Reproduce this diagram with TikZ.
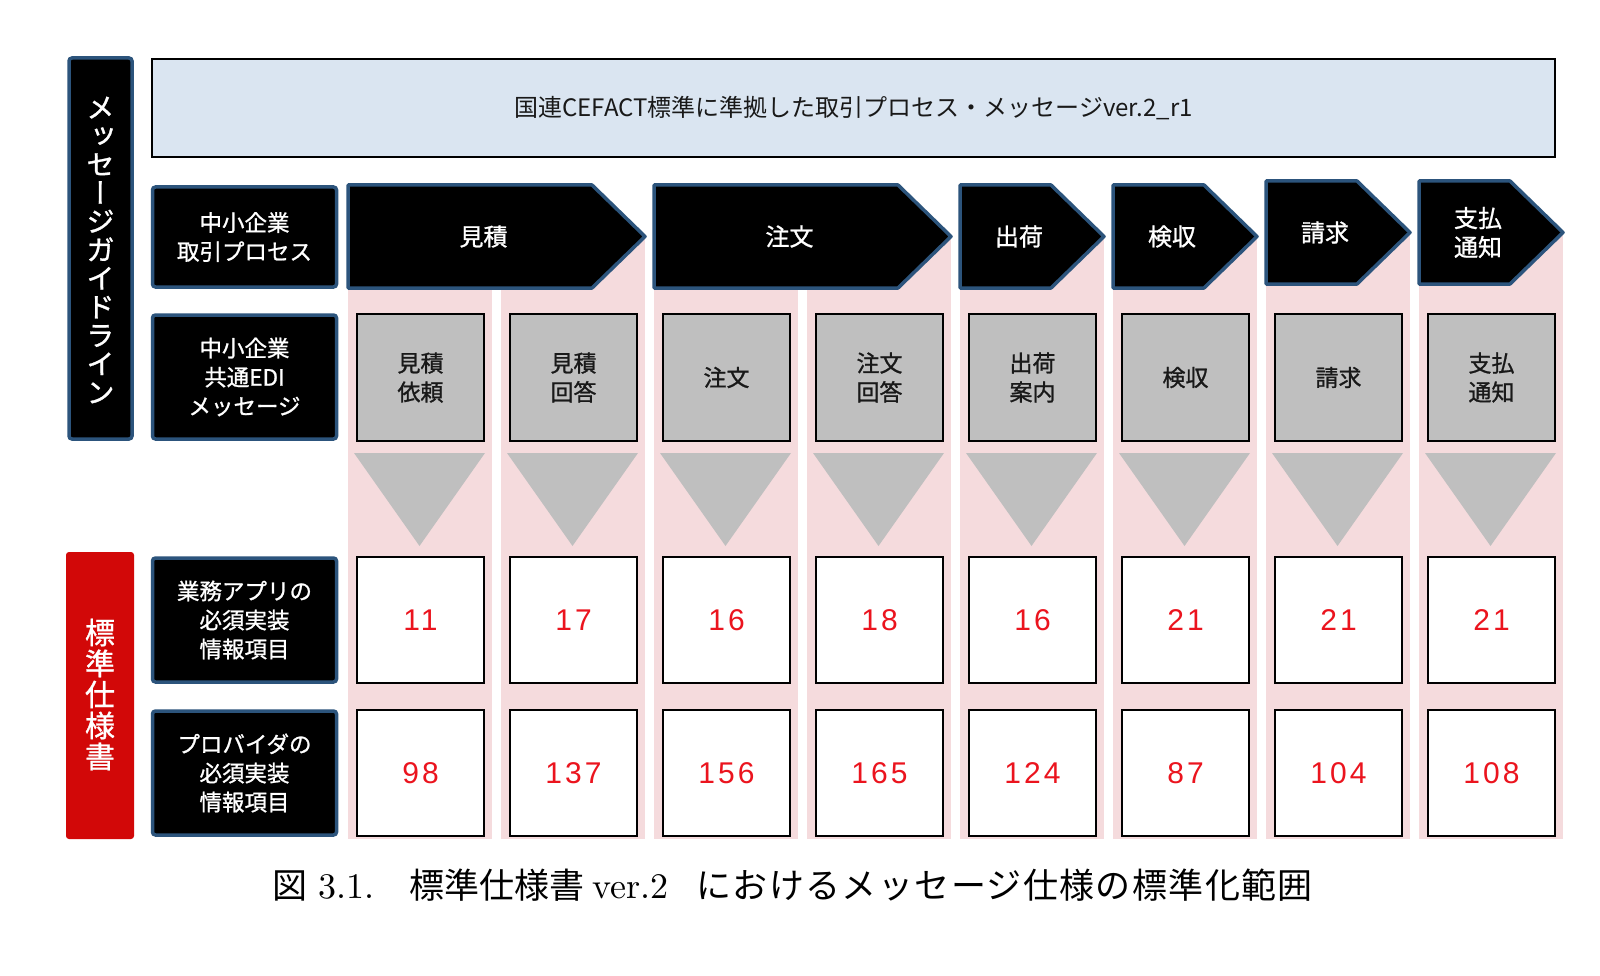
\documentclass[tikz,border=0pt]{standalone}
\usepackage{fontspec}
\newfontfamily\jp{Noto Sans CJK JP}
\newfontfamily\jpb[FakeBold=1]{Noto Sans CJK JP}
\newfontfamily\jpv[RawFeature=+vert,FakeBold=1]{Noto Sans CJK JP}
\newfontfamily\capjp{Noto Sans CJK JP}
\newfontfamily\capjpw[LetterSpace=4]{Noto Sans CJK JP}
\newfontfamily\caplat[Extension=.otf]{lmroman10-regular}
\newfontfamily\numfont[LetterSpace=10]{Liberation Sans}
\definecolor{edgeblue}{RGB}{44,84,124}
\definecolor{pinkbg}{RGB}{245,219,221}
\definecolor{grayfill}{RGB}{191,191,191}
\definecolor{bannerfill}{RGB}{218,229,241}
\definecolor{redbar}{RGB}{210,8,8}
\definecolor{numred}{RGB}{235,20,30}
\definecolor{darktext}{RGB}{25,25,25}
\begin{document}
\begin{tikzpicture}[x=1pt,y=-1pt,
  blackbox/.style={draw=edgeblue,line width=3.5pt,fill=black,rounded corners=3pt,text=white,
    font=\jpb\fontsize{22.5}{29}\selectfont,align=center,inner sep=0pt,minimum width=184pt},
  graybox/.style={draw=black,line width=2pt,fill=grayfill,minimum width=127pt,minimum height=127pt,
    inner sep=0pt,text=darktext,font=\jpb\fontsize{23}{29}\selectfont,align=center},
  numbox/.style={draw=black,line width=2pt,fill=white,minimum width=127pt,minimum height=126pt,
    inner sep=0pt,text=numred,font=\numfont\fontsize{30}{30}\selectfont},
  procarrow/.style={draw=edgeblue,line width=3.5pt,fill=black,line join=round},
  arrowlabel/.style={text=white,font=\jpb\fontsize{24}{29}\selectfont,align=center,inner sep=0pt},
]
\useasboundingbox (0,0) rectangle (1600,976);
\fill[white] (0,0) rectangle (1600,976);

% pink columns and triangles
\foreach \i in {0,...,7} {
  \pgfmathsetmacro\xo{348+153*\i}
  \fill[pinkbg] (\xo,235) rectangle ++(144,604);
  \fill[grayfill] (\xo+6,453) -- (\xo+137,453) -- (\xo+71.5,546) -- cycle;
}

% banner
\node[draw=black,line width=2pt,fill=bannerfill,minimum width=1403pt,minimum height=98pt,inner sep=0pt,
  text=darktext,font=\jp\fontsize{24}{29}\selectfont] (banner) at (853.5,108)
  {国連CEFACT標準に準拠した取引プロセス・メッセージver.2\_r1};

% left vertical bars
\node[draw=edgeblue,line width=3.5pt,fill=black,rounded corners=3pt,minimum width=63pt,minimum height=381pt,inner sep=0pt] (guidebar) at (100.5,248.5) {};
\node[text=white,font=\jpv\fontsize{28.5}{28.5}\selectfont,align=center,inner sep=0pt] (guidetext) at (100.5,250)
  {メ\\ッ\\セ\\ー\\ジ\\ガ\\イ\\ド\\ラ\\イ\\ン};
\node[fill=redbar,rounded corners=3pt,minimum width=68pt,minimum height=287pt,inner sep=0pt] (specbar) at (100,695.5) {};
\node[text=white,font=\jpv\fontsize{30}{31}\selectfont,align=center,inner sep=0pt] (spectext) at (100,694.5)
  {標\\準\\仕\\様\\書};

% left row headers
\node[blackbox,minimum height=100pt] (proc) at (244.5,237) {中小企業\\取引プロセス};
\node[blackbox,minimum height=124pt] (edi) at (244.5,377) {中小企業\\共通EDI\\メッセージ};
\node[blackbox,minimum height=124pt] (app) at (244.5,620) {業務アプリの\\必須実装\\情報項目};
\node[blackbox,minimum height=124pt] (prov) at (244.5,773) {プロバイダの\\必須実装\\情報項目};

% process arrows
\foreach \xa/\xb/\yt/\yb/\lbl/\nm in {348/645/185/288/見積/pa,654/951/185/288/注文/pb,
    960/1104/185/288/出荷/pc,1113/1257/185/288/検収/pd,1266/1410/181/284/請求/pe,
    1419/1563/181/284/{支払\\通知}/pf} {
  \draw[procarrow] (\xa,\yt) -- (\xb-53,\yt) -- (\xb,{(\yt+\yb)/2}) -- (\xb-53,\yb) -- (\xa,\yb) -- cycle;
  \node[arrowlabel] (\nm) at ({(\xa+\xb)/2-13},{(\yt+\yb)/2}) {\lbl};
}

% message boxes
\foreach \t [count=\i from 0] in {{見積\\依頼},{見積\\回答},{注文},{注文\\回答},{出荷\\案内},{検収},{請求},{支払\\通知}} {
  \node[graybox] (m\i) at (420.5+153*\i,377.5) {\t};
}

% numbers
\foreach \a/\b [count=\i from 0] in {11/98,17/137,16/156,18/165,16/124,21/87,21/104,21/108} {
  \node[numbox] (a\i) at (420.5+153*\i,620) {\a};
  \node[numbox] (b\i) at (420.5+153*\i,773) {\b};
}

% caption
\node[anchor=base west,inner sep=0pt,text=black,font=\caplat\fontsize{36}{40}\selectfont] (caption) at (272,898)
  {{\capjp\fontsize{35}{40}\selectfont 図}\hspace{11pt}3.1.\hspace{35pt}{\capjp\fontsize{35}{40}\selectfont 標準仕様書}\hspace{8pt}ver.2\hspace{28pt}{\capjpw\fontsize{35}{40}\selectfont におけるメッセージ仕様の標準化範囲}};
\end{tikzpicture}
\end{document}
